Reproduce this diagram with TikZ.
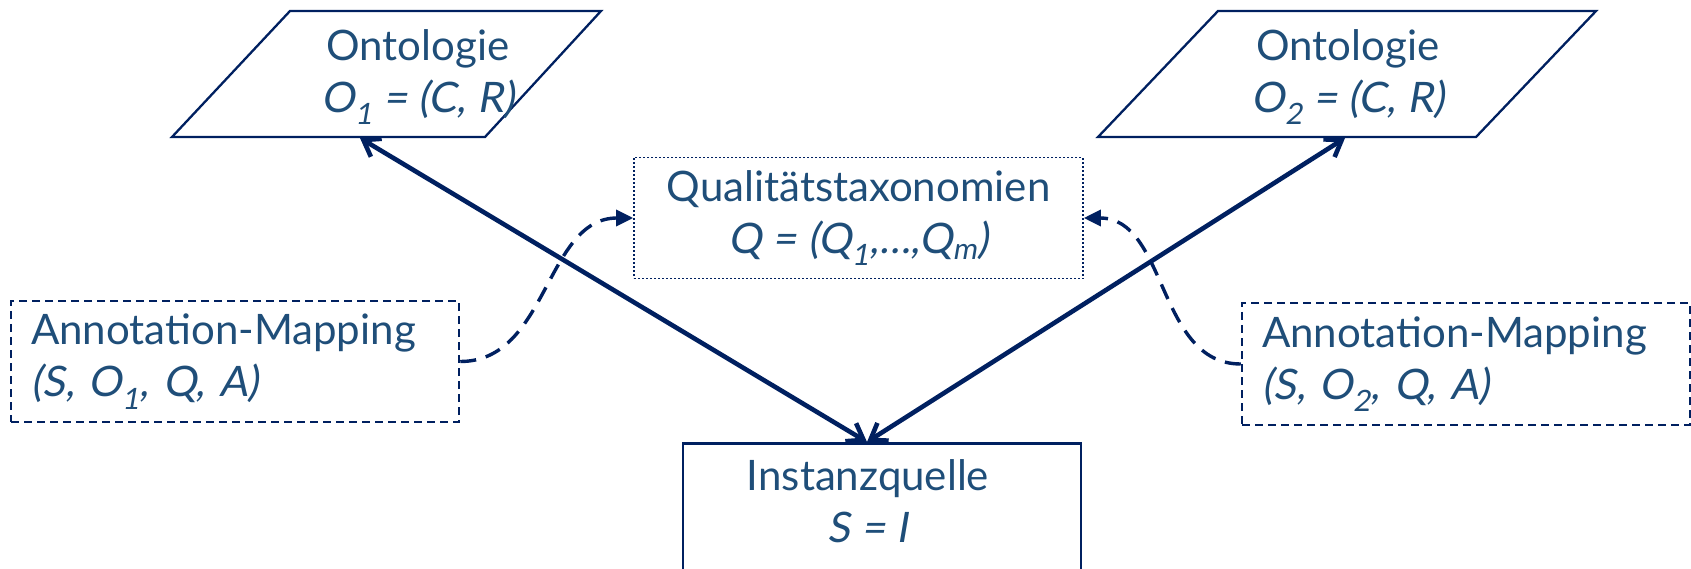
\documentclass[tikz,border=0pt]{standalone}
\usepackage{fontspec}
\setmainfont{Lato}[ItalicFont=Lato, ItalicFeatures={FakeSlant=0.17}]
\usetikzlibrary{arrows.meta}
\definecolor{navyline}{HTML}{002060}
\definecolor{steeltext}{HTML}{1F4E79}

\begin{document}
\begin{tikzpicture}[x=1pt, y=-1pt, >={Straight Barb[length=15pt,width=21pt]},
    lbl/.style={text=steeltext, font=\fontsize{42}{52}\selectfont, align=center, inner sep=0pt},
    ontobox/.style={draw=navyline, line width=2.3pt, line join=miter},
    srcbox/.style={draw=navyline, line width=2.6pt, inner sep=0pt},
    qualbox/.style={lbl, draw=navyline, line width=1.6pt, dash pattern=on 1.6pt off 2.4pt},
    annbox/.style={lbl, draw=navyline, line width=2.5pt, dash pattern=on 8pt off 5pt,
      align=left, inner xsep=20pt, text width=408pt},
    mainarrow/.style={draw=navyline, line width=4.6pt},
    linkarrow/.style={draw=navyline, line width=3.4pt, dash pattern=on 16pt off 10pt,
      -{Triangle[length=17pt,width=16pt]}}]
  \useasboundingbox (0,0) rectangle (1691,569);
  % ontologies as parallelograms
  \draw[ontobox] (290,11) -- (601,11) -- (485,137) -- (172,137) -- cycle;
  \draw[ontobox] (1218,11) -- (1596,11) -- (1476,137) -- (1098,137) -- cycle;
  \node[lbl] (onto1) at (418,77) {Ontologie\\\textit{O\textsubscript{1} = (C, R)}};
  \node[lbl] (onto2) at (1348,77) {Ontologie\\\textit{O\textsubscript{2} = (C, R)}};
  % quality taxonomies
  \node[qualbox, minimum width=449pt, minimum height=121pt] (qual) at (858.5,218)
    {Qualitätstaxonomien\\\textit{Q = (Q\textsubscript{1},…,Q\textsubscript{m})}};
  % annotation mappings
  \node[annbox, minimum width=448pt, minimum height=121pt] (ann1) at (235,361.5)
    {Annotation-Mapping\\\textit{(S, O\textsubscript{1}, Q, A)}};
  \node[annbox, minimum width=446pt, minimum height=122pt] (ann2) at (1466,364)
    {Annotation-Mapping\\\textit{(S, O\textsubscript{2}, Q, A)}};
  % instance source, cut off at the bottom
  \node[srcbox, minimum width=398pt, minimum height=200pt, anchor=north] (src) at (882,442) {};
  \node[lbl] (srctxt) at (868,501) {Instanzquelle\\\textit{S = I}};
  % arrow ends
  \coordinate (tip1) at (360,138);
  \coordinate (tip2) at (1345,138);
  \coordinate (srctip) at (867,442);
  \draw[mainarrow, <->] (tip1) -- (srctip);
  \draw[mainarrow, <->] (tip2) -- (srctip);
  % dashed links into the taxonomies
  \draw[linkarrow] (ann1.east) to[out=0, in=180] (qual.west);
  \draw[linkarrow] (ann2.west) to[out=180, in=0] (qual.east);
\end{tikzpicture}
\end{document}
